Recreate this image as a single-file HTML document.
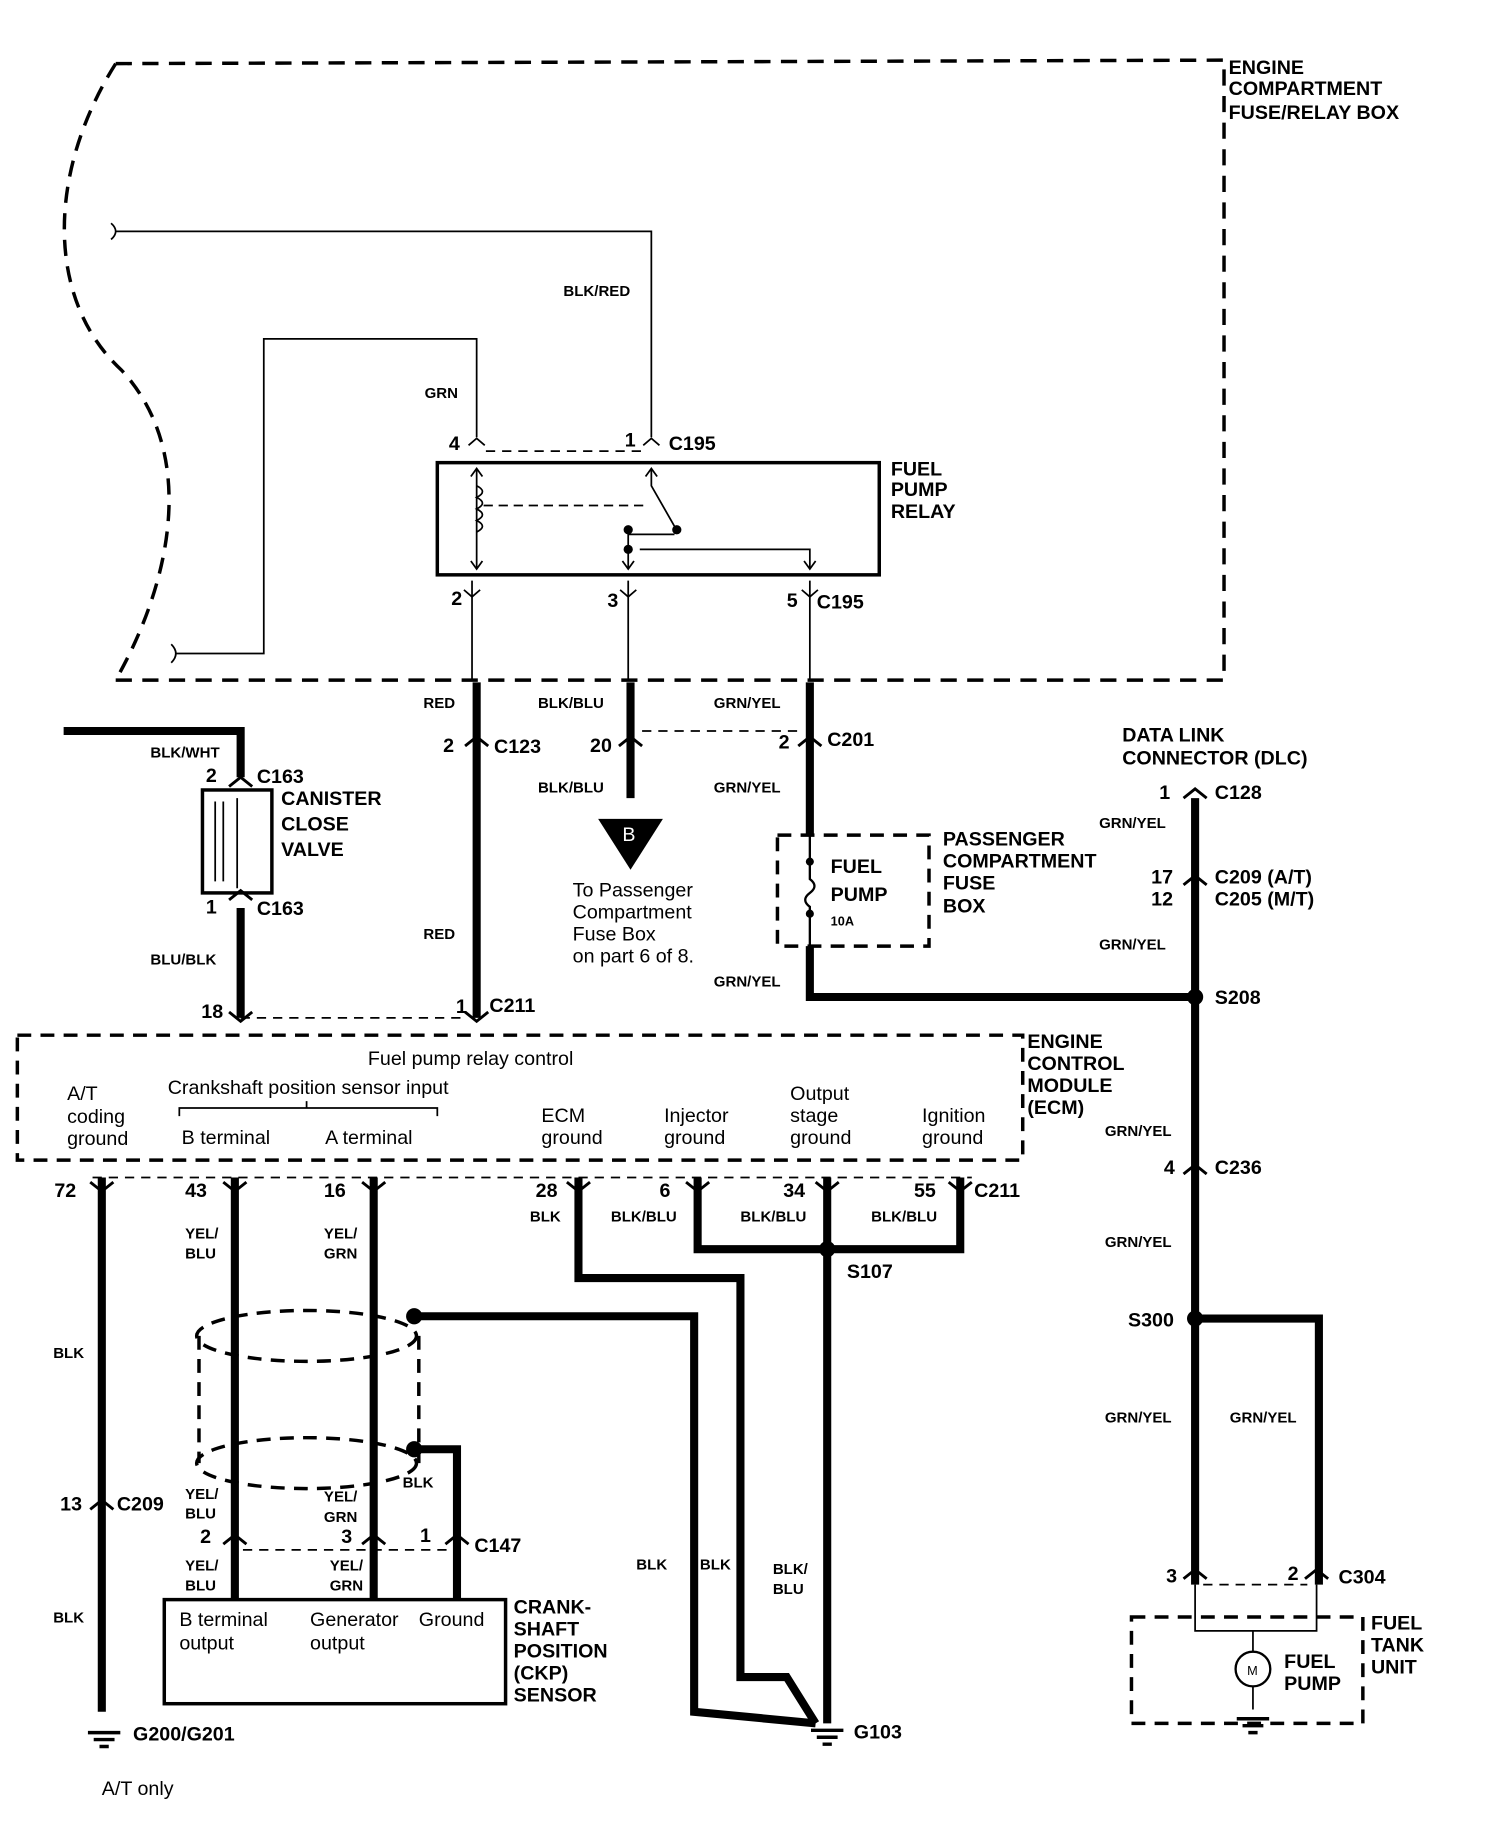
<!DOCTYPE html>
<html><head><meta charset="utf-8"><style>
html,body{margin:0;padding:0;background:#fff}
svg{display:block}
text{font-family:"Liberation Sans",Arial,sans-serif;fill:#000}
.b{font-weight:bold;font-size:17px}
.s{font-weight:bold;font-size:13px}
.n{font-size:17px}
</style></head><body>
<svg width="1504" height="1824" viewBox="0 0 1300 1577" preserveAspectRatio="none" xmlns="http://www.w3.org/2000/svg">
<g fill="none" stroke="#000">
<!-- outer dashed box -->
<path d="M100,55 L1058,52 L1058,588 L100,588" stroke-width="3" stroke-dasharray="14 9"/>
<path d="M100,55 C40,150 40,260 105,320 C170,390 150,500 100,588" stroke-width="3" stroke-dasharray="14 9"/>
<!-- thin wires -->
<path d="M100,200 L563,200 L563,378" stroke-width="1.5"/>
<path d="M152,565 L228,565 L228,293 L412,293 L412,378" stroke-width="1.5"/>
<path d="M96,193 q8,7 0,14 M148,557 q8,8 0,16" stroke-width="1.5"/>
<path d="M420,390 L555,390" stroke-width="1.5" stroke-dasharray="8 6"/>
<path d="M405,385 l7,-6 l7,6 M556,385 l7,-6 l7,6" stroke-width="1.5"/>
<!-- relay -->
<rect x="378" y="400" width="382" height="97" stroke-width="3"/>
<path d="M412,405 L412,492 M563,405 L563,420 L583,455 M543,458 L543,492 M543,462 L583,462 M553,475 L700,475 L700,492 M700,482" stroke-width="1.5"/>
<path d="M407,412 l5,-7 l5,7 M407,485 l5,7 l5,-7 M558,412 l5,-7 l5,7 M538,485 l5,7 l5,-7 M695,485 l5,7 l5,-7" stroke-width="1.5"/>
<path d="M412,420 q10,5 0,10 q10,5 0,10 q10,5 0,10 q10,5 0,10" stroke-width="1.5"/>
<path d="M418,437 L560,437" stroke-width="1.5" stroke-dasharray="8 5"/>
<circle cx="543" cy="458" r="3.5" fill="#000"/><circle cx="585" cy="458" r="3.5" fill="#000"/><circle cx="543" cy="475" r="3.5" fill="#000"/>
<!-- bottom connectors C195 -->
<path d="M408,502 L408,588 M543,502 L543,588 M700,502 L700,588" stroke-width="1.5"/>
<path d="M401,510 l7,6 l7,-6 M536,510 l7,6 l7,-6 M693,510 l7,6 l7,-6" stroke-width="1.5"/>
<!-- thick wires -->
<path d="M412,590 L412,880" stroke-width="7"/>
<path d="M545,590 L545,690" stroke-width="7"/>
<path d="M700,590 L700,722" stroke-width="7"/>
<path d="M555,632 L690,632" stroke-width="1.5" stroke-dasharray="8 6"/>
<path d="M700,818 L700,862 L1030,862" stroke-width="7"/>
<path d="M1033,690 L1033,1370" stroke-width="7"/>
<path d="M1033,1140 L1140,1140 L1140,1370" stroke-width="7"/>
<!-- canister -->
<path d="M55,632 L208,632 L208,672" stroke-width="7"/>
<path d="M208,785 L208,880" stroke-width="7"/>
<rect x="175" y="683" width="60" height="89" stroke-width="3"/>
<path d="M186,693 L186,762 M193,693 L193,762 M205,690 L205,768" stroke-width="1.5"/>
<path d="M208,880 L400,880" stroke-width="1.5" stroke-dasharray="8 6"/>
<!-- passenger fuse box -->
<rect x="672" y="722" width="131" height="96" stroke-width="3" stroke-dasharray="12 8"/>
<path d="M700,722 L700,760 q8,6 0,12 q-8,6 0,12 L700,818" stroke-width="2"/>
<circle cx="700" cy="745" r="3" fill="#000"/><circle cx="700" cy="790" r="3" fill="#000"/>
<!-- ECM -->
<rect x="15" y="895" width="869" height="108" stroke-width="3" stroke-dasharray="12 8"/>
<path d="M155,965 L155,958 L378,958 L378,965 M265,958 L265,952" stroke-width="1.5"/>
<path d="M80,1018 L840,1018" stroke-width="1.5" stroke-dasharray="8 6"/>
<path d="M88,1018 L88,1480" stroke-width="7"/>
<path d="M203,1018 L203,1383 M323,1018 L323,1383" stroke-width="7"/>
<path d="M500,1018 L500,1105 L640,1105 L640,1450 L680,1450 L705,1490 M603,1018 L603,1080 L830,1080 L830,1018 M715,1018 L715,1490" stroke-width="7"/>
<path d="M358,1138 L600,1138 L600,1480 L705,1490 M358,1253 L395,1253 L395,1383" stroke-width="7"/>
<!-- shields -->
<ellipse cx="265" cy="1155" rx="95" ry="22" stroke-width="3" stroke-dasharray="12 8"/>
<ellipse cx="265" cy="1265" rx="95" ry="22" stroke-width="3" stroke-dasharray="12 8"/>
<path d="M172,1155 L172,1265 M362,1155 L362,1265" stroke-width="3" stroke-dasharray="12 8"/>
<path d="M210,1340 L395,1340" stroke-width="1.5" stroke-dasharray="8 6"/>
<rect x="142" y="1383" width="295" height="90" stroke-width="3"/>
<!-- fuel tank -->
<rect x="978" y="1398" width="200" height="92" stroke-width="3" stroke-dasharray="12 8"/>
<path d="M1033,1370 L1033,1410 L1138,1410 L1138,1370 M1083,1410 L1083,1428 M1083,1458 L1083,1478" stroke-width="1.5"/>
<path d="M1040,1370 L1130,1370" stroke-width="1.5" stroke-dasharray="8 6"/>
<circle cx="1083" cy="1443" r="15" stroke-width="2"/>
<!-- connector marks on thick wires -->
<path d="M402,645 l10,-8 l10,8 M535,645 l10,-8 l10,8 M690,645 l10,-8 l10,8 M1023,690 l10,-8 l10,8 M1023,765 l10,-8 l10,8 M1023,1015 l10,-8 l10,8 M78,1305 l10,-8 l10,8 M193,1335 l10,-8 l10,8 M313,1335 l10,-8 l10,8 M385,1335 l10,-8 l10,8 M1023,1365 l10,-8 l10,8 M1128,1365 l10,-8 l10,8 M198,680 l10,-8 l10,8 M198,778 l10,-8 l10,8" stroke-width="2.5"/>
<path d="M78,1022 l10,8 l10,-8 M193,1022 l10,8 l10,-8 M313,1022 l10,8 l10,-8 M490,1022 l10,8 l10,-8 M593,1022 l10,8 l10,-8 M705,1022 l10,8 l10,-8 M820,1022 l10,8 l10,-8 M198,875 l10,8 l10,-8 M402,875 l10,8 l10,-8" stroke-width="2.5"/>
<!-- grounds -->
<path d="M76,1498 L104,1498 M81,1504 L99,1504 M86,1510 L94,1510 M701,1496 L729,1496 M706,1502 L724,1502 M711,1508 L719,1508 M1069,1486 L1097,1486 M1074,1492 L1092,1492 M1079,1498 L1087,1498" stroke-width="3"/>
</g>
<circle cx="1033" cy="862" r="7"/><circle cx="715" cy="1080" r="7"/><circle cx="1033" cy="1140" r="7"/>
<circle cx="358" cy="1138" r="7"/><circle cx="358" cy="1253" r="7"/>
<path d="M517,708 L573,708 L545,752 Z"/>
<text x="538" y="727" style="font-size:17px;fill:#fff;font-family:'Liberation Sans',sans-serif">B</text>
<text x="1078" y="1448" style="font-size:11px">M</text>
<g class="b">
<text x="1062" y="64">ENGINE</text><text x="1062" y="82">COMPARTMENT</text><text x="1062" y="103">FUSE/RELAY BOX</text>
<text x="770" y="411">FUEL</text><text x="770" y="429">PUMP</text><text x="770" y="448">RELAY</text>
<text x="388" y="389">4</text><text x="540" y="386">1</text><text x="578" y="389">C195</text>
<text x="390" y="523">2</text><text x="525" y="525">3</text><text x="680" y="525">5</text><text x="706" y="526">C195</text>
<text x="383" y="650">2</text><text x="427" y="651">C123</text><text x="510" y="650">20</text><text x="673" y="647">2</text><text x="715" y="645">C201</text>
<text x="970" y="641">DATA LINK</text><text x="970" y="661">CONNECTOR (DLC)</text>
<text x="1002" y="691">1</text><text x="1050" y="691">C128</text>
<text x="995" y="764">17</text><text x="1050" y="764">C209 (A/T)</text>
<text x="995" y="783">12</text><text x="1050" y="783">C205 (M/T)</text>
<text x="1050" y="868">S208</text><text x="1006" y="1015">4</text><text x="1050" y="1015">C236</text>
<text x="975" y="1147">S300</text>
<text x="815" y="731">PASSENGER</text><text x="815" y="750">COMPARTMENT</text><text x="815" y="769">FUSE</text><text x="815" y="789">BOX</text>
<text x="718" y="755">FUEL</text><text x="718" y="779">PUMP</text>
<text x="178" y="676">2</text><text x="222" y="677">C163</text>
<text x="243" y="696">CANISTER</text><text x="243" y="718">CLOSE</text><text x="243" y="740">VALVE</text>
<text x="178" y="790">1</text><text x="222" y="791">C163</text>
<text x="174" y="880">18</text><text x="394" y="876">1</text><text x="423" y="875">C211</text>
<text x="888" y="906">ENGINE</text><text x="888" y="925">CONTROL</text><text x="888" y="944">MODULE</text><text x="888" y="963">(ECM)</text>
<text x="47" y="1035">72</text><text x="160" y="1035">43</text><text x="280" y="1035">16</text><text x="463" y="1035">28</text><text x="570" y="1035">6</text><text x="677" y="1035">34</text><text x="790" y="1035">55</text><text x="842" y="1035">C211</text>
<text x="732" y="1105">S107</text>
<text x="52" y="1306">13</text><text x="101" y="1306">C209</text>
<text x="173" y="1334">2</text><text x="295" y="1334">3</text><text x="363" y="1333">1</text><text x="410" y="1342">C147</text>
<text x="444" y="1395">CRANK-</text><text x="444" y="1414">SHAFT</text><text x="444" y="1433">POSITION</text><text x="444" y="1452">(CKP)</text><text x="444" y="1471">SENSOR</text>
<text x="115" y="1505">G200/G201</text><text x="738" y="1503">G103</text>
<text x="1008" y="1368">3</text><text x="1113" y="1366">2</text><text x="1157" y="1369">C304</text>
<text x="1185" y="1409">FUEL</text><text x="1185" y="1428">TANK</text><text x="1185" y="1447">UNIT</text>
<text x="1110" y="1442">FUEL</text><text x="1110" y="1461">PUMP</text>
</g>
<g class="s">
<text x="487" y="256">BLK/RED</text><text x="367" y="344">GRN</text>
<text x="366" y="612">RED</text><text x="465" y="612">BLK/BLU</text><text x="617" y="612">GRN/YEL</text>
<text x="465" y="685">BLK/BLU</text><text x="617" y="685">GRN/YEL</text>
<text x="130" y="655">BLK/WHT</text><text x="130" y="834">BLU/BLK</text><text x="366" y="812">RED</text>
<text x="617" y="853">GRN/YEL</text><text x="718" y="800" style="font-size:11px">10A</text>
<text x="950" y="716">GRN/YEL</text><text x="950" y="821">GRN/YEL</text><text x="955" y="982">GRN/YEL</text><text x="955" y="1078">GRN/YEL</text>
<text x="955" y="1230">GRN/YEL</text><text x="1063" y="1230">GRN/YEL</text>
<text x="458" y="1056">BLK</text><text x="528" y="1056">BLK/BLU</text><text x="640" y="1056">BLK/BLU</text><text x="753" y="1056">BLK/BLU</text>
<text x="160" y="1071">YEL/</text><text x="160" y="1088">BLU</text><text x="280" y="1071">YEL/</text><text x="280" y="1088">GRN</text>
<text x="46" y="1174">BLK</text><text x="348" y="1286">BLK</text>
<text x="160" y="1296">YEL/</text><text x="160" y="1313">BLU</text><text x="280" y="1298">YEL/</text><text x="280" y="1316">GRN</text>
<text x="160" y="1358">YEL/</text><text x="160" y="1375">BLU</text><text x="285" y="1358">YEL/</text><text x="285" y="1375">GRN</text>
<text x="46" y="1403">BLK</text><text x="550" y="1357">BLK</text><text x="605" y="1357">BLK</text><text x="668" y="1361">BLK/</text><text x="668" y="1378">BLU</text>
</g>
<g class="n">
<text x="495" y="775">To  Passenger</text><text x="495" y="794">Compartment</text><text x="495" y="813">Fuse Box</text><text x="495" y="832">on part 6 of 8.</text>
<text x="318" y="921">Fuel pump relay control</text>
<text x="58" y="951">A/T</text><text x="58" y="971">coding</text><text x="58" y="990">ground</text>
<text x="145" y="946">Crankshaft position sensor input</text>
<text x="157" y="989">B terminal</text><text x="281" y="989">A terminal</text>
<text x="468" y="970">ECM</text><text x="468" y="989">ground</text>
<text x="574" y="970">Injector</text><text x="574" y="989">ground</text>
<text x="683" y="951">Output</text><text x="683" y="970">stage</text><text x="683" y="989">ground</text>
<text x="797" y="970">Ignition</text><text x="797" y="989">ground</text>
<text x="155" y="1406">B terminal</text><text x="155" y="1426">output</text>
<text x="268" y="1406">Generator</text><text x="268" y="1426">output</text><text x="362" y="1406">Ground</text>
<text x="88" y="1552">A/T only</text>
</g>
</svg>
</body></html>
